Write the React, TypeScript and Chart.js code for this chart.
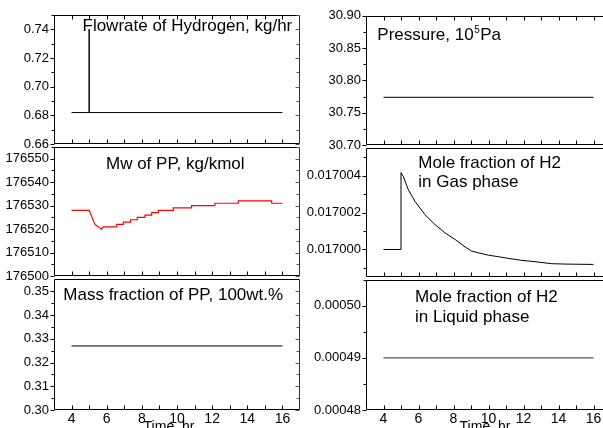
import React, { useEffect, useRef } from 'react';
import { Chart, registerables } from 'chart.js';

Chart.register(...registerables);

// ---------- data ----------
const timeLabels = [4, 6, 8, 10, 12, 14, 16];
const timeMarks = [4, 5, 6, 7, 8, 9, 10, 11, 12, 13, 14, 15, 16];

const flowTime = [4, 5, 5, 5, 16];
const flowValues = [0.682, 0.682, 0.74, 0.682, 0.682];
const flowTicks = [0.66, 0.68, 0.70, 0.72, 0.74];
const flowMinor = [0.67, 0.69, 0.71, 0.73, 0.75];

const pressureTime = [4, 16];
const pressureValues = [30.774, 30.774];
const pressureTicks = [30.70, 30.75, 30.80, 30.85, 30.90];
const pressureMinor = [30.725, 30.775, 30.825, 30.875];

const mwTime = [4, 5, 5.33, 5.52, 5.71, 5.81, 6.57, 6.57, 6.95, 6.95, 7.36, 7.36, 7.74, 7.74, 8.18, 8.18, 8.56, 8.56, 8.94, 8.94, 9.79, 9.79, 10.83, 10.83, 12.16, 12.16, 13.49, 13.49, 15.39, 15.39, 16];
const mwValues = [176528, 176528, 176522, 176521, 176520, 176521, 176521, 176522, 176522, 176523, 176523, 176524, 176524, 176525, 176525, 176526, 176526, 176527, 176527, 176528, 176528, 176529, 176529, 176530, 176530, 176531, 176531, 176532, 176532, 176531, 176531];
const mwTicks = [176500, 176510, 176520, 176530, 176540, 176550];
const mwMinor = [176505, 176515, 176525, 176535, 176545, 176555];

const gasTime = [4, 5, 5, 5.13, 5.42, 5.8, 6.37, 6.94, 7.51, 8.09, 8.66, 9.04, 9.42, 9.99, 10.56, 11.13, 11.9, 12.66, 13.61, 14.37, 16];
const gasValues = [0.0170000, 0.0170000, 0.01700416, 0.01700395, 0.01700323, 0.0170026, 0.01700188, 0.01700135, 0.0170009, 0.01700054, 0.01700014, 0.01699991, 0.01699982, 0.01699969, 0.01699961, 0.01699952, 0.01699941, 0.01699934, 0.01699923, 0.01699921, 0.01699919];
const gasTicks = [0.017000, 0.017002, 0.017004];
const gasMinor = [0.016999, 0.017001, 0.017003, 0.017005];

const massTime = [4, 16];
const massValues = [0.327, 0.327];
const massTicks = [0.30, 0.31, 0.32, 0.33, 0.34, 0.35];
const massMinor = [0.305, 0.315, 0.325, 0.335, 0.345];

const liquidTime = [4, 16];
const liquidValues = [0.00049, 0.00049];
const liquidTicks = [0.00048, 0.00049, 0.00050];
const liquidMinor = [0.000485, 0.000495, 0.000505];

const FONT = '"Liberation Sans", Arial, Helvetica, sans-serif';

type TitleLine = { text: string; dx: number; dy: number; sup?: [string, string] };

type PanelCfg = {
  left: number; right: number; top: number; bottom: number;
  time: number[]; values: number[];
  min: number; max: number; ticks: number[]; minor: number[]; decimals: number;
  color: string; lineWidth: number;
  titles: TitleLine[];
  showX: boolean; topTicks: boolean; timeDx?: number;
};

const panels: PanelCfg[] = [
  {
    left: 54, right: 300, top: 14, bottom: 145,
    time: flowTime, values: flowValues, min: 0.66, max: 0.75, ticks: flowTicks, minor: flowMinor, decimals: 2,
    color: '#000', lineWidth: 1,
    titles: [{ text: 'Flowrate of Hydrogen, kg/hr', dx: 28.5, dy: 16 }],
    showX: false, topTicks: true,
  },
  {
    left: 366, right: 611, top: 15, bottom: 146,
    time: pressureTime, values: pressureValues, min: 30.70, max: 30.90, ticks: pressureTicks, minor: pressureMinor, decimals: 2,
    color: '#000', lineWidth: 1,
    titles: [{ text: 'Pressure, 10', dx: 11.3, dy: 24.3, sup: ['5', 'Pa'] }],
    showX: false, topTicks: true,
  },
  {
    left: 54, right: 300, top: 146, bottom: 277,
    time: mwTime, values: mwValues, min: 176500, max: 176555, ticks: mwTicks, minor: mwMinor, decimals: 0,
    color: '#ff0000', lineWidth: 1.2,
    titles: [{ text: 'Mw of PP, kg/kmol', dx: 52, dy: 21.7 }],
    showX: false, topTicks: false,
  },
  {
    left: 366, right: 611, top: 147, bottom: 278,
    time: gasTime, values: gasValues, min: 0.0169985, max: 0.0170055, ticks: gasTicks, minor: gasMinor, decimals: 6,
    color: '#000', lineWidth: 1,
    titles: [
      { text: 'Mole fraction of H2', dx: 52.3, dy: 20.3 },
      { text: 'in Gas phase', dx: 52.3, dy: 39 },
    ],
    showX: false, topTicks: false,
  },
  {
    left: 54, right: 300, top: 278, bottom: 410,
    time: massTime, values: massValues, min: 0.30, max: 0.3553, ticks: massTicks, minor: massMinor, decimals: 2,
    color: '#000', lineWidth: 1,
    titles: [{ text: 'Mass fraction of PP, 100wt.%', dx: 9.3, dy: 21.3 }],
    showX: true, topTicks: false, timeDx: 115,
  },
  {
    left: 366, right: 611, top: 279, bottom: 410,
    time: liquidTime, values: liquidValues, min: 0.00048, max: 0.000505, ticks: liquidTicks, minor: liquidMinor, decimals: 5,
    color: '#555', lineWidth: 1.3,
    titles: [
      { text: 'Mole fraction of H2', dx: 49, dy: 21.7 },
      { text: 'in Liquid phase', dx: 49, dy: 41.7 },
    ],
    showX: true, topTicks: false, timeDx: 119,
  },
];

const PL = 64;
const PT = 12;
const PR = 12;

function makeDecor(cfg: PanelCfg) {
  return {
    id: 'decor',
    afterDraw(chart: any) {
      const ctx = chart.ctx as CanvasRenderingContext2D;
      const { left, right, top, bottom } = chart.chartArea;
      const xs = chart.scales.x;
      const ys = chart.scales.y;
      const L = Math.round(left) + 0.5;
      const R = Math.round(right) - 0.5;
      const T = Math.round(top) + 0.5;
      const B = Math.round(bottom) - 0.5;
      ctx.save();
      ctx.lineWidth = 1;
      ctx.strokeStyle = '#000';
      const seg = (x1: number, y1: number, x2: number, y2: number, c = '#000') => {
        ctx.strokeStyle = c;
        ctx.beginPath();
        ctx.moveTo(x1, y1);
        ctx.lineTo(x2, y2);
        ctx.stroke();
      };
      // frame
      seg(L, T, R, T);
      seg(L, B, R, B);
      seg(L, T, L, B);
      seg(R, T, R, B, '#333');
      // x ticks
      timeMarks.forEach((v) => {
        const px = Math.round(xs.getPixelForValue(v)) + 0.5;
        seg(px, B, px, B - 4);
        if (cfg.topTicks) seg(px, T, px, T + 4);
      });
      // y ticks
      const yt = (v: number, len: number) => {
        const py = Math.round(ys.getPixelForValue(v)) + 0.5;
        if (py < T - 1 || py > B + 1) return;
        seg(L - len, py, L, py);
        seg(R, py, R - len, py, '#555');
      };
      cfg.ticks.forEach((v) => yt(v, 4));
      cfg.minor.forEach((v) => yt(v, 3));
      // titles
      ctx.fillStyle = '#000';
      ctx.textBaseline = 'alphabetic';
      ctx.textAlign = 'left';
      cfg.titles.forEach((t) => {
        ctx.font = `17px ${FONT}`;
        const x = left + t.dx;
        const y = top + t.dy;
        ctx.fillText(t.text, x, y);
        if (t.sup) {
          const w = ctx.measureText(t.text).width;
          ctx.font = `10px ${FONT}`;
          ctx.fillText(t.sup[0], x + w + 0.5, y - 7);
          const w2 = ctx.measureText(t.sup[0]).width;
          ctx.font = `17px ${FONT}`;
          ctx.fillText(t.sup[1], x + w + w2 + 1, y);
        }
      });
      if (cfg.showX && cfg.timeDx !== undefined) {
        ctx.font = `14px ${FONT}`;
        ctx.textAlign = 'center';
        ctx.fillText('Time, hr', left + cfg.timeDx, bottom + 20.5);
      }
      ctx.restore();
    },
  };
}

function Panel({ cfg }: { cfg: PanelCfg }) {
  const ref = useRef<HTMLCanvasElement>(null);
  const PB = cfg.showX ? 30 : 12;
  const w = PL + (cfg.right - cfg.left) + PR;
  const h = PT + (cfg.bottom - cfg.top) + PB;

  useEffect(() => {
    const canvas = ref.current;
    if (!canvas) return;
    const chart = new Chart(canvas, {
      type: 'line',
      data: {
        datasets: [
          {
            data: cfg.time.map((t, i) => ({ x: t, y: cfg.values[i] })),
            borderColor: cfg.color,
            backgroundColor: cfg.color,
            borderWidth: cfg.lineWidth,
            pointRadius: 0,
            tension: 0,
            fill: false,
          },
        ],
      },
      options: {
        responsive: false,
        animation: false,
        devicePixelRatio: 1,
        events: [],
        layout: { autoPadding: false, padding: { left: 0, top: PT, right: PR, bottom: 0 } },
        plugins: { legend: { display: false }, tooltip: { enabled: false }, title: { display: false } },
        scales: {
          x: {
            type: 'linear',
            min: 3,
            max: 17,
            grid: { display: false, drawTicks: false },
            border: { display: false },
            ticks: {
              display: cfg.showX,
              padding: 1,
              color: '#000',
              maxRotation: 0,
              autoSkip: false,
              font: { family: FONT, size: 14 },
              callback: (v: any) => String(v),
            },
            afterBuildTicks: (s: any) => {
              s.ticks = timeLabels.map((v) => ({ value: v }));
            },
            afterFit: (s: any) => {
              s.height = PB;
            },
          },
          y: {
            type: 'linear',
            min: cfg.min,
            max: cfg.max,
            grid: { display: false, drawTicks: false },
            border: { display: false },
            ticks: {
              padding: 5,
              color: '#000',
              autoSkip: false,
              font: { family: FONT, size: 13 },
              callback: (v: any) => Number(v).toFixed(cfg.decimals),
            },
            afterBuildTicks: (s: any) => {
              s.ticks = cfg.ticks.map((v) => ({ value: v }));
            },
            afterFit: (s: any) => {
              s.width = PL;
            },
          },
        },
      } as any,
      plugins: [makeDecor(cfg)],
    });
    return () => chart.destroy();
  }, [cfg]);

  return (
    <canvas
      ref={ref}
      width={w}
      height={h}
      style={{ position: 'absolute', left: cfg.left - PL, top: cfg.top - PT, width: w, height: h }}
    />
  );
}

export default function App() {
  return (
    <div
      style={{
        position: 'fixed',
        left: 0,
        top: 0,
        width: 603,
        height: 428,
        overflow: 'hidden',
        background: '#fff',
      }}
    >
      {panels.map((p, i) => (
        <Panel key={i} cfg={p} />
      ))}
    </div>
  );
}
